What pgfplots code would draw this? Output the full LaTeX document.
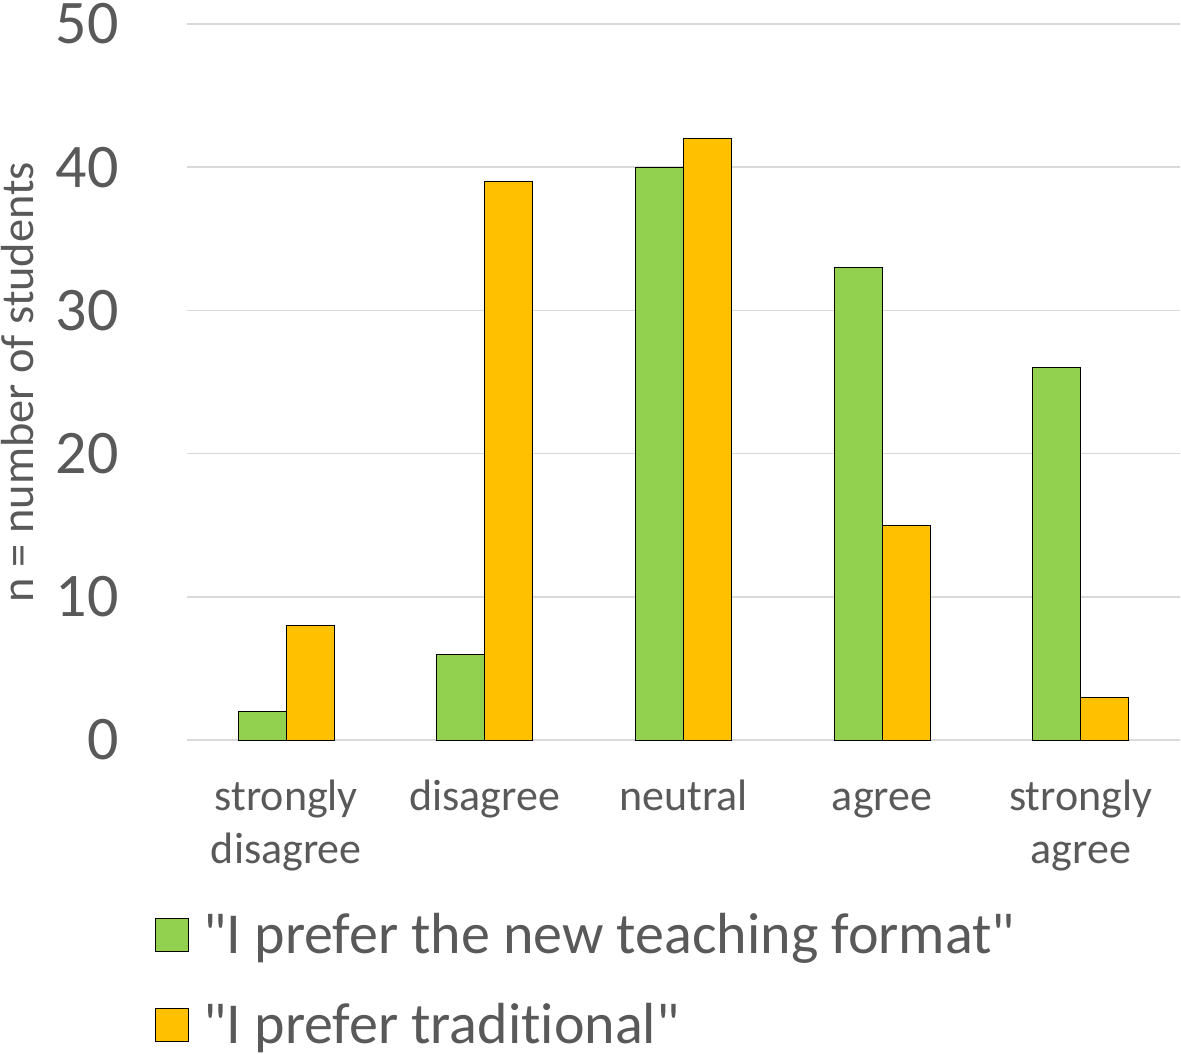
\documentclass[border=0pt]{standalone}
\usepackage{fontspec}
\setmainfont{Carlito}[Ligatures={TeXOff,CommonOff}]
\usepackage{pgfplots}
\pgfplotsset{compat=1.18}
\definecolor{newfmt}{HTML}{92D050}
\definecolor{trad}{HTML}{FFC000}
\definecolor{txt}{HTML}{595959}
\definecolor{gridc}{HTML}{D9D9D9}
\begin{document}
\begin{tikzpicture}
\useasboundingbox (-93.5pt,-156.5pt) rectangle (497pt,370pt);
\begin{axis}[
  at={(0pt,0pt)}, anchor=south west,
  scale only axis, width=496.5pt, height=358pt,
  ybar=0pt, bar width=24pt,
  xmin=-0.5, xmax=4.5, ymin=0, ymax=50,
  xtick={0,1,2,3,4},
  xticklabels={{strongly\\disagree},disagree,neutral,{\vphantom{l}agree},{strongly\\agree}},
  ytick={0,10,20,30,40,50},
  axis line style={draw=none},
  major tick length=0pt,
  ymajorgrids, grid style={gridc, line width=0.8pt},
  /pgf/number format/assume math mode=true,
  xticklabel style={font=\fontsize{22}{26.5}\selectfont, text=txt, align=center, anchor=north,
    inner sep=0pt, yshift=-20pt},
  yticklabel style={font=\fontsize{31}{37}\selectfont, text=txt, anchor=east, inner sep=0pt, xshift=-34pt},
  ylabel={n = number of students},
  ylabel style={font=\fontsize{23.2}{28}\selectfont, text=txt, at={(axis description cs:-0.171,0.5)}, anchor=center},
  legend style={at={(axis description cs:-0.033,-0.242)}, anchor=north west, draw=none, fill=none,
    font=\fontsize{29}{35}\selectfont, text=txt, inner sep=0pt, row sep=23pt, column sep=7.5pt,
    nodes={inner sep=0pt}},
  legend cell align=left,
]
\addplot[fill=newfmt, draw=black, line width=0.5pt,
  legend image code/.code={\draw[fill=newfmt, draw=black, line width=0.5pt] (0pt,-8.25pt) rectangle (16.5pt,8.25pt);}]
  coordinates {(0,2) (1,6) (2,40) (3,33) (4,26)};
\addlegendentry{"I prefer the new teaching format"}
\addplot[fill=trad, draw=black, line width=0.5pt,
  legend image code/.code={\draw[fill=trad, draw=black, line width=0.5pt] (0pt,-8.25pt) rectangle (16.5pt,8.25pt);}]
  coordinates {(0,8) (1,39) (2,42) (3,15) (4,3)};
\addlegendentry{"I prefer traditional"}
\end{axis}
\end{tikzpicture}
\end{document}
